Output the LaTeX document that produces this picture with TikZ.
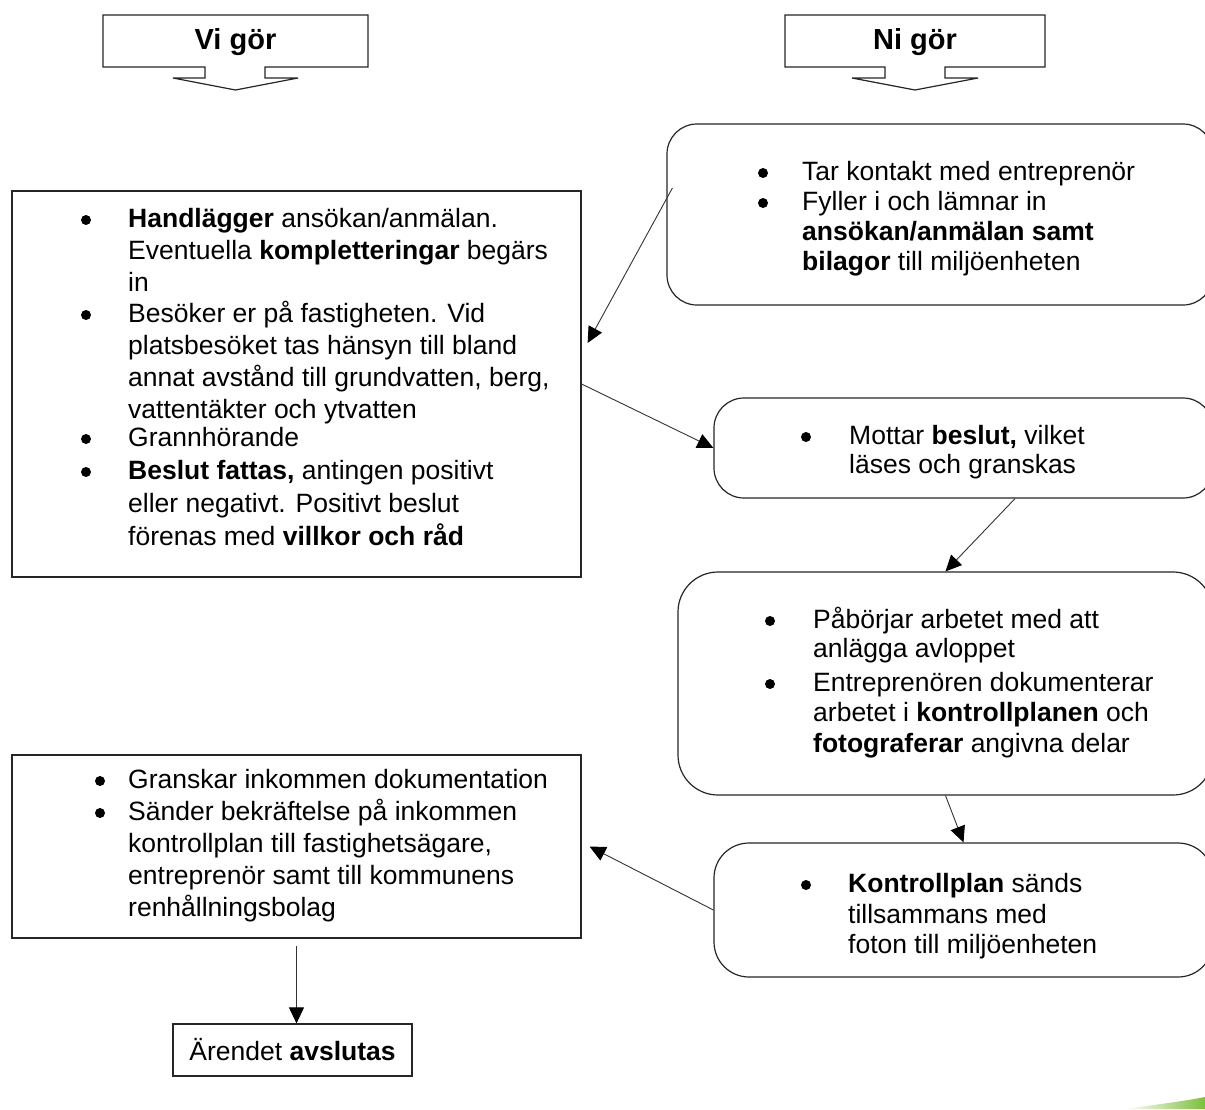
\documentclass[tikz,border=0pt]{standalone}
\usepackage{fontspec}
\setmainfont{Liberation Sans}
\usetikzlibrary{arrows.meta,calc}
\newcommand\bodyfont{\fontsize{26.5}{32}\selectfont}
\newcommand\headfont{\fontsize{29}{34}\selectfont\bfseries}
\tikzset{
  boxline/.style={draw=black!85, line width=1.2pt},
  sqbox/.style={boxline, rectangle, inner sep=0pt},
  rbox/.style={boxline, rectangle, rounded corners=30pt, inner sep=0pt},
  ln/.style={anchor=base west, inner sep=0pt, font=\bodyfont},
  dot/.style={circle, fill=black, inner sep=0pt, minimum size=10pt},
  arr/.style={draw=black!80, line width=0.9pt, -{Triangle[length=16pt,width=15pt,color=black]}},
  callout/.style={draw=black!85, line width=1.2pt, fill=white},
}
\begin{document}
\begin{tikzpicture}[x=1pt,y=-1pt]
\useasboundingbox (0,0) rectangle (1205,1109);
\clip (0,0) rectangle (1205,1109);
\fill[white] (0,0) rectangle (1205,1109);

% callouts
\draw[callout] (103,15) -- (368,15) -- (368,67) -- (265,67) -- (265,78) -- (298,78) -- (235.5,90) -- (173,78) -- (205,78) -- (205,67) -- (103,67) -- cycle;
\node[font=\headfont, inner sep=0pt] (vi) at (235.5,42) {Vi gör};
\draw[callout] (785,15) -- (1045,15) -- (1045,67) -- (945,67) -- (945,78) -- (978,78) -- (915,90) -- (852,78) -- (885,78) -- (885,67) -- (785,67) -- cycle;
\node[font=\headfont, inner sep=0pt] (ni) at (915,42) {Ni gör};

% boxes
\node[sqbox, minimum width=569pt, minimum height=386pt] (L1) at (296.5,384) {};
\node[sqbox, minimum width=569pt, minimum height=183pt] (L2) at (296.5,846.5) {};
\node[sqbox, minimum width=239pt, minimum height=52pt] (F) at (292.5,1050) {};
\node[rbox, minimum width=546pt, minimum height=181pt] (R1) at (940,214.5) {};
\node[rbox, minimum width=499pt, minimum height=100pt] (R2) at (963.5,448) {};
\node[rbox, minimum width=535pt, minimum height=223pt, rounded corners=40pt] (R3) at (945.5,683.5) {};
\node[rbox, minimum width=499pt, minimum height=134pt, rounded corners=35pt] (R4) at (963.5,910) {};

% L1 text
\node[dot] (l1d1) at (86,220) {};
\node[ln] (l1a) at (128,227) {\textbf{Handlägger} ansökan/anmälan.};
\node[ln] (l1b) at (128,259) {Eventuella \textbf{kompletteringar} begärs};
\node[ln] (l1c) at (128,291) {in};
\node[dot] (l1d2) at (86,315) {};
\node[ln] (l1e) at (128,322) {Besöker er på fastigheten. Vid};
\node[ln] (l1f) at (128,354) {platsbesöket tas hänsyn till bland};
\node[ln] (l1g) at (128,386) {annat avstånd till grundvatten, berg,};
\node[ln] (l1h) at (128,418) {vattentäkter och ytvatten};
\node[dot] (l1d3) at (86,439) {};
\node[ln] (l1i) at (128,446) {Grannhörande};
\node[dot] (l1d4) at (86,472) {};
\node[ln] (l1j) at (128,479) {\textbf{Beslut fattas,} antingen positivt};
\node[ln] (l1k) at (128,512) {eller negativt. Positivt beslut};
\node[ln] (l1l) at (128,545) {förenas med \textbf{villkor och råd}};

% R1 text
\node[dot] (r1d1) at (763,173) {};
\node[ln] (r1a) at (802,180) {Tar kontakt med entreprenör};
\node[dot] (r1d2) at (763,203) {};
\node[ln] (r1b) at (802,210) {Fyller i och lämnar in};
\node[ln] (r1c) at (802,240) {\textbf{ansökan/anmälan samt}};
\node[ln] (r1d) at (802,270) {\textbf{bilagor} till miljöenheten};

% R2 text
\node[dot] (r2d1) at (806,437) {};
\node[ln] (r2a) at (849,444) {Mottar \textbf{beslut,} vilket};
\node[ln] (r2b) at (849,473) {läses och granskas};

% R3 text
\node[dot] (r3d1) at (770,621) {};
\node[ln] (r3a) at (813,628) {Påbörjar arbetet med att};
\node[ln] (r3b) at (813,657) {anlägga avloppet};
\node[dot] (r3d2) at (770,684) {};
\node[ln] (r3c) at (813,691) {Entreprenören dokumenterar};
\node[ln] (r3d) at (813,721) {arbetet i \textbf{kontrollplanen} och};
\node[ln] (r3e) at (813,752) {\textbf{fotograferar} angivna delar};

% R4 text
\node[dot] (r4d1) at (806,885) {};
\node[ln] (r4a) at (848,892) {\textbf{Kontrollplan} sänds};
\node[ln] (r4b) at (848,923) {tillsammans med};
\node[ln] (r4c) at (848,953) {foton till miljöenheten};

% L2 text
\node[dot] (l2d1) at (100,781) {};
\node[ln] (l2a) at (128,788) {Granskar inkommen dokumentation};
\node[dot] (l2d2) at (100,813) {};
\node[ln] (l2b) at (128,820) {Sänder bekräftelse på inkommen};
\node[ln] (l2c) at (128,852) {kontrollplan till fastighetsägare,};
\node[ln] (l2d) at (128,884) {entreprenör samt till kommunens};
\node[ln] (l2e) at (128,916) {renhållningsbolag};

% final text
\node[font=\bodyfont, inner sep=0pt] (ft) at (F.center) {Ärendet \textbf{avslutas}};

% connectors
\draw[arr] ([xshift=6pt,yshift=26.5pt]R1.west) -- ([xshift=6pt,yshift=41pt]L1.east);
\draw[arr] (L1.east) -- (R2.west);
\draw[arr] ([xshift=51.5pt]R2.south) -- (R3.north);
\draw[arr] (R3.south) -- (R4.north);
\draw[arr] (R4.west) -- ([xshift=8pt]L2.east);
\draw[arr] ([yshift=-7pt]L2.south) -- (L2.south |- F.north);

% green swoosh
\shade[left color=white, right color={rgb,255:red,125;green,190;blue,60}]
  (1125,1109) .. controls (1160,1104) and (1185,1101) .. (1205,1097) -- (1205,1109) -- cycle;
\end{tikzpicture}
\end{document}
